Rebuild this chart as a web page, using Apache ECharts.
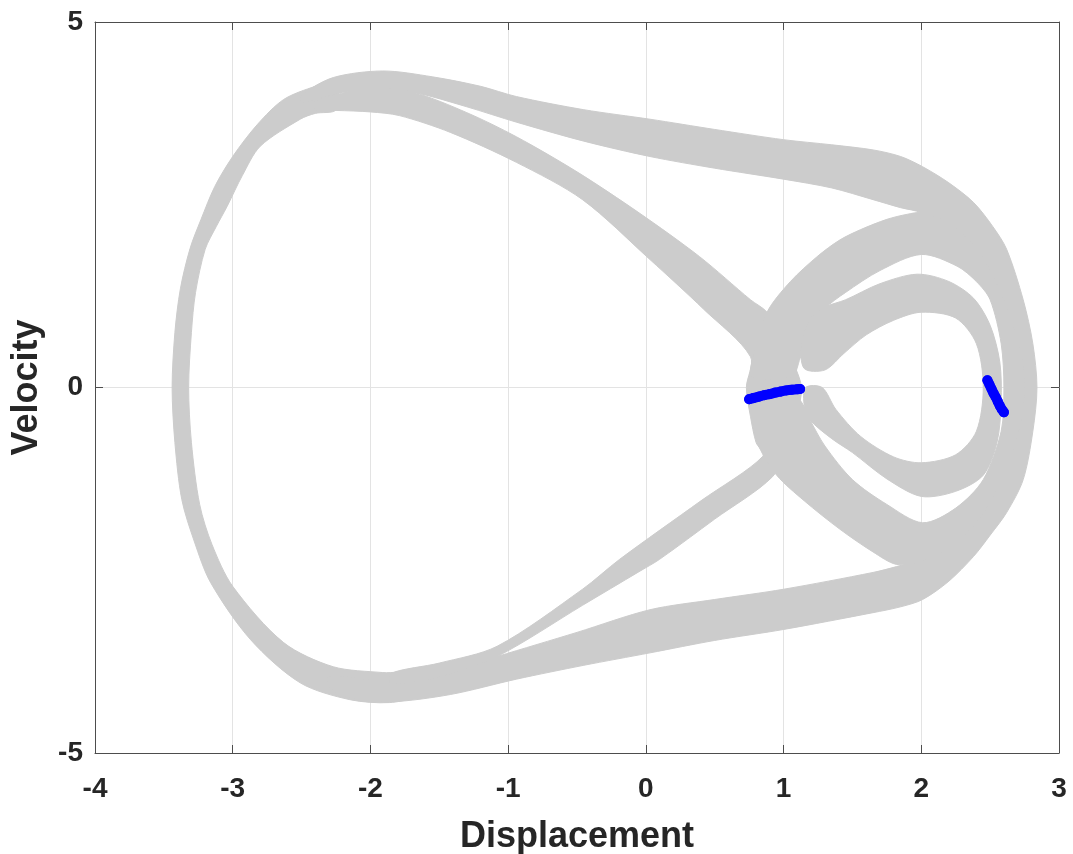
<!DOCTYPE html>
<html>
<head>
<meta charset="utf-8">
<script src="https://cdn.jsdelivr.net/npm/echarts@6/dist/echarts.min.js"></script>
<style>
html,body{margin:0;padding:0;background:#fff;}
#chart{width:1073px;height:854px;}
</style>
</head>
<body>
<div id="chart"></div>
<script>
// ---- data: edges of the grey trajectory bands ----
const xTicks = [-4, -3, -2, -1, 0, 1, 2, 3];
const yTicks = [-5, 0, 5];

// left arc where the big loops run together
const leftArcOuter = [[-2.25,4.18],[-2.4,4.12],[-2.63,3.94],[-2.82,3.6],[-3.0,3.16],[-3.13,2.75],[-3.23,2.3],[-3.31,1.9],[-3.38,1.35],[-3.42,0.75],[-3.44,0],[-3.42,-0.75],[-3.37,-1.53],[-3.28,-2.1],[-3.16,-2.67],[-2.87,-3.45],[-2.51,-4.04],[-2.15,-4.27],[-1.86,-4.31],[-1.7,-4.22]];
const leftArcInner = [[-2.25,3.8],[-2.4,3.75],[-2.51,3.67],[-2.8,3.3],[-2.93,2.9],[-3.04,2.48],[-3.12,2.2],[-3.2,1.89],[-3.27,1.3],[-3.3,0.75],[-3.32,0],[-3.3,-0.75],[-3.24,-1.6],[-3.15,-2.15],[-3.0,-2.72],[-2.63,-3.49],[-2.27,-3.82],[-1.91,-3.9],[-1.7,-3.92]];

// big loop: upper band, right side and lower band
const loopAOuter = [[-2.5,4.0],[-2.27,4.24],[-1.91,4.33],[-1.55,4.25],[-1.2,4.12],[-0.94,3.98],[-0.45,3.8],[0.03,3.67],[0.5,3.53],[1.0,3.39],[1.35,3.32],[1.65,3.25],[1.85,3.16],[2.01,3.02],[2.2,2.8],[2.38,2.53],[2.52,2.2],[2.62,1.89],[2.74,1.2],[2.81,0.6],[2.84,0],[2.81,-0.6],[2.74,-1.26],[2.62,-1.71],[2.5,-2.02],[2.38,-2.31],[2.2,-2.65],[2.01,-2.9],[1.85,-3.0],[1.65,-3.08],[1.0,-3.31],[0.5,-3.46],[0.03,-3.63],[-0.45,-3.8],[-0.94,-3.99],[-1.42,-4.2],[-1.86,-4.3],[-2.15,-4.24],[-2.3,-4.1]];
const loopAInner = [[-2.5,3.9],[-2.2,4.04],[-1.91,4.06],[-1.69,4.04],[-1.3,3.84],[-0.94,3.63],[-0.45,3.37],[0.03,3.16],[0.5,3.0],[1.0,2.85],[1.35,2.73],[1.65,2.57],[1.85,2.46],[2.0,2.39],[2.2,2.15],[2.38,1.8],[2.52,1.3],[2.62,0.6],[2.65,0],[2.62,-0.6],[2.52,-1.3],[2.38,-1.75],[2.2,-2.1],[2.0,-2.35],[1.82,-2.45],[1.65,-2.53],[1.0,-2.76],[0.5,-2.9],[0.03,-3.04],[-0.5,-3.35],[-1.08,-3.68],[-1.5,-3.92],[-1.86,-4.02],[-2.3,-3.95]];

// diagonal band that turns back near x = 1
const loopBOuter = [[-2.4,3.92],[-2.2,4.03],[-1.95,4.09],[-1.69,4.04],[-1.3,3.76],[-0.94,3.43],[-0.5,2.95],[-0.05,2.39],[0.39,1.79],[0.76,1.2],[0.88,1.03],[1.0,0.65],[1.08,0.3],[1.13,0],[1.1,-0.35],[1.02,-0.8],[0.92,-1.22],[0.5,-1.8],[0.1,-2.35],[-0.05,-2.52],[-0.46,-2.98],[-1.08,-3.68],[-1.5,-3.96],[-1.85,-4.05]];
const loopBInner = [[-2.4,3.79],[-2.25,3.79],[-2.0,3.77],[-1.79,3.72],[-1.42,3.49],[-0.94,3.08],[-0.46,2.57],[0.03,1.75],[0.42,1.07],[0.76,0.42],[0.73,0],[0.76,-0.4],[0.8,-0.75],[0.85,-0.94],[0.4,-1.55],[-0.19,-2.35],[-0.46,-2.76],[-1.08,-3.54],[-1.5,-3.77],[-1.85,-3.91]];

// middle ring around the right well (open end hidden under the diagonal band)
const ringMOuter = [[0.77,0.15],[0.78,0.42],[0.88,1.03],[1.05,1.45],[1.25,1.8],[1.41,2.02],[1.56,2.16],[1.75,2.3],[1.9,2.37],[2.0,2.39],[2.2,2.25],[2.42,1.85],[2.6,1.2],[2.72,0.5],[2.75,0],[2.72,-0.5],[2.6,-1.2],[2.42,-1.8],[2.2,-2.2],[2.0,-2.38],[1.82,-2.42],[1.65,-2.25],[1.41,-1.94],[1.15,-1.55],[0.95,-1.2],[0.82,-0.8],[0.77,-0.4],[0.77,-0.15]];
const ringMInner = [[1.06,0.15],[1.12,0.4],[1.2,0.8],[1.3,1.08],[1.45,1.3],[1.7,1.6],[2.0,1.82],[2.26,1.66],[2.4,1.45],[2.5,1.2],[2.58,0.6],[2.6,0],[2.58,-0.6],[2.45,-1.26],[2.25,-1.65],[2.01,-1.85],[1.75,-1.6],[1.5,-1.26],[1.3,-0.8],[1.19,-0.44],[1.1,-0.15]];

// inner ring around the right well (open at the notch)
const ringIOuter = [[1.15,0.26],[1.13,0.6],[1.2,0.95],[1.3,1.1],[1.45,1.2],[1.7,1.42],[1.97,1.55],[2.2,1.45],[2.38,1.22],[2.5,0.85],[2.57,0.35],[2.58,-0.2],[2.55,-0.75],[2.45,-1.2],[2.25,-1.42],[2.0,-1.49],[1.75,-1.25],[1.5,-0.89],[1.35,-0.7],[1.19,-0.44],[1.15,-0.25],[1.16,0.0]];
const ringIInner = [[1.3,0.24],[1.44,0.47],[1.6,0.72],[1.8,0.92],[2.0,1.03],[2.25,0.95],[2.4,0.6],[2.45,0],[2.4,-0.6],[2.25,-0.92],[2.0,-1.03],[1.8,-0.95],[1.56,-0.67],[1.38,-0.3],[1.28,0.0]];

// Poincare section points (blue)
const poincareLeft = [[0.75,-0.16],[0.78,-0.145],[0.82,-0.125],[0.86,-0.105],[0.9,-0.09],[0.94,-0.07],[0.98,-0.055],[1.02,-0.04],[1.06,-0.03],[1.1,-0.025],[1.12,-0.02]];
const poincareRight = [[2.48,0.1],[2.495,0.04],[2.51,-0.02],[2.525,-0.08],[2.54,-0.13],[2.555,-0.19],[2.57,-0.25],[2.585,-0.3],[2.6,-0.34]];

// ---- chart ----
const bands = [
  [leftArcOuter, leftArcInner],
  [loopAOuter, loopAInner],
  [loopBOuter, loopBInner],
  [ringMOuter, ringMInner],
  [ringIOuter, ringIInner]
];
const FONT = 'Liberation Sans, Arial, Helvetica, sans-serif';
const gray = '#cccccc';

const series = [{
  type: 'custom', xAxisIndex: 0, yAxisIndex: 0, silent: true, clip: true, z: 2,
  data: bands.map((b, i) => [i]),
  encode: { x: 0 },
  renderItem: function (params, api) {
    const b = bands[params.dataIndex];
    const pts = b[0].map(p => api.coord(p)).concat(b[1].slice().reverse().map(p => api.coord(p)));
    return {
      type: 'polygon',
      shape: { points: pts, smooth: 0.3 },
      style: { fill: gray, stroke: gray, lineWidth: 1 }
    };
  }
}];
[poincareLeft, poincareRight].forEach(d => series.push({
  type: 'line', data: d, xAxisIndex: 0, yAxisIndex: 0,
  smooth: 0.3, symbol: 'circle', symbolSize: 10, showSymbol: true, silent: true,
  itemStyle: { color: '#0000ff' },
  lineStyle: { color: '#0000ff', width: 10, cap: 'round', join: 'round' }, z: 5
}));

const axisLineStyle = { color: '#4d4d4d', width: 1 };
const option = {
  animation: false,
  backgroundColor: '#ffffff',
  grid: { left: 95, right: 14, top: 22, bottom: 101, containLabel: false, outerBoundsMode: 'none' },
  xAxis: [{
    type: 'value', position: 'bottom', min: xTicks[0], max: xTicks[xTicks.length-1], interval: 1,
    axisLine: { show: true, onZero: false, lineStyle: axisLineStyle },
    axisTick: { show: true, inside: true, length: 8, lineStyle: axisLineStyle },
    axisLabel: { fontSize: 28, fontWeight: 'bold', color: '#262626', margin: 22, fontFamily: FONT },
    splitLine: { show: true, lineStyle: { color: '#e3e3e3', width: 1 } },
    name: 'Displacement', nameLocation: 'middle', nameGap: 66,
    nameTextStyle: { fontSize: 36, fontWeight: 'bold', color: '#262626', fontFamily: FONT }
  }, {
    type: 'value', position: 'top', min: xTicks[0], max: xTicks[xTicks.length-1], interval: 1,
    axisLine: { show: true, onZero: false, lineStyle: axisLineStyle },
    axisTick: { show: true, inside: true, length: 8, lineStyle: axisLineStyle },
    axisLabel: { show: false }, splitLine: { show: false }
  }],
  yAxis: [{
    type: 'value', position: 'left', min: yTicks[0], max: yTicks[yTicks.length-1], interval: 5,
    axisLine: { show: true, onZero: false, lineStyle: axisLineStyle },
    axisTick: { show: true, inside: true, length: 8, lineStyle: axisLineStyle },
    axisLabel: { fontSize: 28, fontWeight: 'bold', color: '#262626', margin: 12, fontFamily: FONT },
    splitLine: { show: true, lineStyle: { color: '#e3e3e3', width: 1 } },
    name: 'Velocity', nameLocation: 'middle', nameGap: 50,
    nameTextStyle: { fontSize: 36, fontWeight: 'bold', color: '#262626', fontFamily: FONT }
  }, {
    type: 'value', position: 'right', min: yTicks[0], max: yTicks[yTicks.length-1], interval: 5,
    axisLine: { show: true, onZero: false, lineStyle: axisLineStyle },
    axisTick: { show: true, inside: true, length: 8, lineStyle: axisLineStyle },
    axisLabel: { show: false }, splitLine: { show: false }
  }],
  series: series
};
const chart = echarts.init(document.getElementById('chart'), null, { renderer: 'canvas' });
chart.setOption(option);
</script>
</body>
</html>
